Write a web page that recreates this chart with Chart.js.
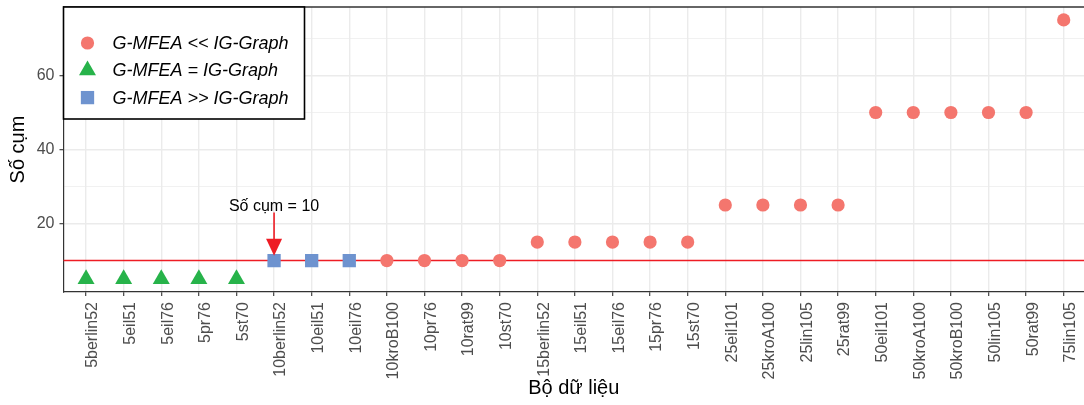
<!DOCTYPE html>
<html>
<head>
<meta charset="utf-8">
<script src="https://cdn.jsdelivr.net/npm/chart.js@4"></script>
<style>
  body { margin: 0; background: #fff; }
  #wrap { width: 1084px; height: 405px; }
</style>
</head>
<body>
<div id="wrap"><canvas id="chart" width="1084" height="405"></canvas></div>
<script>
const categories = ['5berlin52', '5eil51', '5eil76', '5pr76', '5st70',
  '10berlin52', '10eil51', '10eil76', '10kroB100', '10pr76', '10rat99', '10st70',
  '15berlin52', '15eil51', '15eil76', '15pr76', '15st70',
  '25eil101', '25kroA100', '25lin105', '25rat99',
  '50eil101', '50kroA100', '50kroB100', '50lin105', '50rat99', '75lin105'];
const clusters = [5, 5, 5, 5, 5, 10, 10, 10, 10, 10, 10, 10, 15, 15, 15, 15, 15,
  25, 25, 25, 25, 50, 50, 50, 50, 50, 75];
const groups = ['eq', 'eq', 'eq', 'eq', 'eq', 'gt', 'gt', 'gt',
  'lt', 'lt', 'lt', 'lt', 'lt', 'lt', 'lt', 'lt', 'lt',
  'lt', 'lt', 'lt', 'lt', 'lt', 'lt', 'lt', 'lt', 'lt', 'lt'];
const groupNames = { lt: 'G-MFEA << IG-Graph', eq: 'G-MFEA = IG-Graph', gt: 'G-MFEA >> IG-Graph' };
const yTicks = [10, 20, 30, 40, 50, 60, 70];
const yLabels = [20, 40, 60];
const refLine = 10;
const arrowText = 'Số cụm = 10';
const arrowAt = 5;          // index of 10berlin52
const arrowFromY = 23;
const arrowToY = 11.3;
const arrowTextY = 24.6;

const FONT = "'Liberation Sans', Arial, sans-serif";
const styles = {
  lt: { color: '#F4766E', shape: 'circle', r: 6.6 },
  eq: { color: '#27B34A', shape: 'triangle', r: 9.8 },
  gt: { color: '#6E93CF', shape: 'rect', r: 9.4 }
};
const legendOrder = ['lt', 'eq', 'gt'];

function makeDataset(g) {
  const pts = [];
  categories.forEach((c, i) => {
    if (groups[i] === g) pts.push({ x: i, y: clusters[i] });
  });
  return {
    label: groupNames[g],
    data: pts,
    pointStyle: styles[g].shape,
    pointRadius: styles[g].r,
    pointHoverRadius: styles[g].r,
    pointBackgroundColor: styles[g].color,
    pointBorderColor: styles[g].color,
    pointBorderWidth: 0
  };
}

const overlay = {
  id: 'overlay',
  beforeDatasetsDraw(chart) {
    const { ctx, chartArea: a, scales: { y } } = chart;
    const py = y.getPixelForValue(refLine);
    ctx.save();
    ctx.strokeStyle = '#EE1C24';
    ctx.lineWidth = 1.6;
    ctx.beginPath();
    ctx.moveTo(a.left, py);
    ctx.lineTo(a.right, py);
    ctx.stroke();
    ctx.restore();
  },
  afterDatasetsDraw(chart) {
    const { ctx, chartArea: a, scales: { x, y } } = chart;
    const px = x.getPixelForValue(arrowAt);
    const y0 = y.getPixelForValue(arrowFromY);
    const y1 = y.getPixelForValue(arrowToY);
    ctx.save();
    ctx.strokeStyle = '#EE1C24';
    ctx.fillStyle = '#EE1C24';
    ctx.lineWidth = 1.6;
    ctx.beginPath();
    ctx.moveTo(px, y0);
    ctx.lineTo(px, y1 - 14);
    ctx.stroke();
    ctx.beginPath();
    ctx.moveTo(px - 8, y1 - 17);
    ctx.lineTo(px + 8, y1 - 17);
    ctx.lineTo(px, y1);
    ctx.closePath();
    ctx.fill();
    ctx.fillStyle = '#000';
    ctx.font = '16px ' + FONT;
    ctx.textAlign = 'center';
    ctx.textBaseline = 'middle';
    ctx.fillText(arrowText, px, y.getPixelForValue(arrowTextY));
    // top border of panel
    ctx.strokeStyle = '#333';
    ctx.lineWidth = 1.6;
    ctx.beginPath();
    ctx.moveTo(a.left, a.top);
    ctx.lineTo(a.right, a.top);
    ctx.stroke();
    ctx.restore();
  },
  afterDraw(chart) {
    const { ctx, chartArea: a } = chart;
    const bx = a.left, by = a.top, bw = 241, bh = 112;
    ctx.save();
    ctx.fillStyle = '#fff';
    ctx.fillRect(bx, by, bw, bh);
    ctx.strokeStyle = '#000';
    ctx.lineWidth = 1.6;
    ctx.strokeRect(bx, by, bw, bh);
    legendOrder.forEach((g, k) => {
      const cy = by + 36 + k * 27.3;
      const cx = bx + 24;
      const s = styles[g];
      ctx.fillStyle = s.color;
      ctx.beginPath();
      if (s.shape === 'circle') {
        ctx.arc(cx, cy, s.r, 0, Math.PI * 2);
      } else if (s.shape === 'triangle') {
        ctx.moveTo(cx, cy - s.r);
        ctx.lineTo(cx + s.r * 0.866, cy + s.r * 0.5);
        ctx.lineTo(cx - s.r * 0.866, cy + s.r * 0.5);
        ctx.closePath();
      } else {
        const h = s.r * Math.SQRT1_2;
        ctx.rect(cx - h, cy - h, 2 * h, 2 * h);
      }
      ctx.fill();
      ctx.fillStyle = '#000';
      ctx.font = 'italic 18px ' + FONT;
      ctx.textAlign = 'left';
      ctx.textBaseline = 'middle';
      ctx.fillText(groupNames[g], bx + 49, cy + 1);
    });
    ctx.restore();
  }
};

new Chart(document.getElementById('chart'), {
  type: 'scatter',
  data: { datasets: legendOrder.map(makeDataset) },
  options: {
    responsive: false,
    animation: false,
    events: [],
    layout: { autoPadding: false, padding: { top: 7, right: 0, bottom: 0, left: 0 } },
    plugins: { legend: { display: false }, tooltip: { enabled: false } },
    scales: {
      x: {
        type: 'linear',
        min: -0.6,
        max: 26.54,
        afterBuildTicks: s => { s.ticks = categories.map((c, i) => ({ value: i })); },
        afterFit: s => { s.height = 113; s.paddingLeft = 0; s.paddingRight = 0; },
        ticks: {
          autoSkip: false,
          minRotation: 90,
          maxRotation: 90,
          padding: 6,
          labelOffset: 7,
          color: '#4D4D4D',
          font: { family: FONT, size: 16 },
          callback: v => categories[v]
        },
        grid: { color: '#EBEBEB', lineWidth: 1.4, tickLength: 4, tickColor: '#333', tickWidth: 1.1 },
        border: { display: true, color: '#333', width: 1.2 },
        title: {
          display: true,
          text: 'Bộ dữ liệu',
          color: '#000',
          font: { family: FONT, size: 20 },
          padding: { top: 0, bottom: 5 }
        }
      },
      y: {
        min: 1.5,
        max: 78.5,
        afterBuildTicks: s => { s.ticks = yTicks.map(v => ({ value: v })); },
        afterFit: s => { s.width = 63.5; s.paddingTop = 0; s.paddingBottom = 0; },
        ticks: {
          padding: 5,
          color: '#4D4D4D',
          font: { family: FONT, size: 16 },
          callback: v => (yLabels.includes(v) ? String(v) : '')
        },
        grid: {
          color: '#EBEBEB',
          lineWidth: c => (yLabels.includes(c.tick && c.tick.value) ? 1.4 : 0.7),
          tickLength: 4,
          tickColor: c => (yLabels.includes(c.tick && c.tick.value) ? '#333' : 'rgba(0,0,0,0)'),
          tickWidth: 1.1
        },
        border: { display: true, color: '#333', width: 1.2 },
        title: {
          display: true,
          text: 'Số cụm',
          color: '#000',
          font: { family: FONT, size: 20 },
          padding: { top: 6, bottom: 0 }
        }
      }
    }
  },
  plugins: [overlay]
});
</script>
</body>
</html>
